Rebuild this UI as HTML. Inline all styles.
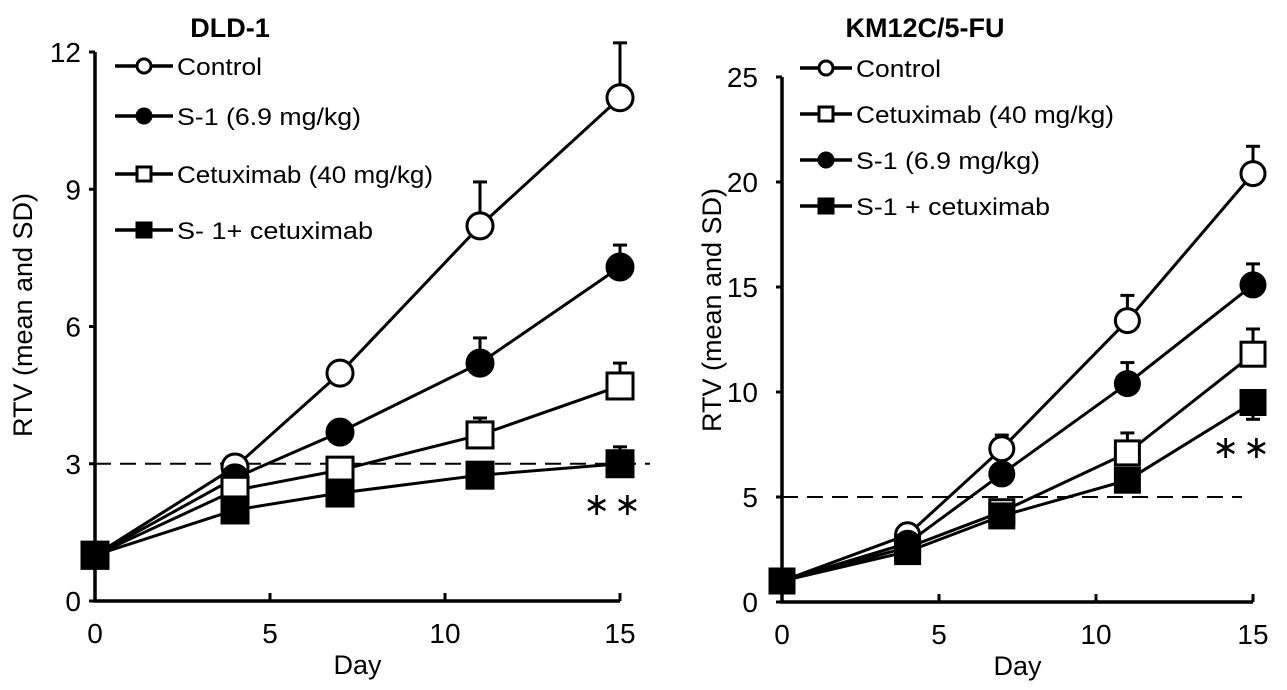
<!DOCTYPE html>
<html><head><meta charset="utf-8"><style>
body{margin:0;background:#fff}
svg text{font-family:"Liberation Sans",Arial,sans-serif;fill:#000}
</style></head><body>
<svg id="c" width="1287" height="685" viewBox="0 0 1287 685" xmlns="http://www.w3.org/2000/svg"></svg>
<script>
const days=[0,4,7,11,15];
const xTicks=[0,5,10,15];
const leftYTicks=[0,3,6,9,12];
const rightYTicks=[0,5,10,15,20,25];
const leftControl=[1,2.93,4.98,8.2,11.0];
const leftControlErr=[null,null,null,9.16,12.2];
const leftS1=[1,2.69,3.69,5.2,7.3];
const leftS1Err=[null,null,null,5.75,7.78];
const leftCetux=[1,2.42,2.86,3.63,4.7];
const leftCetuxErr=[null,null,null,4.0,5.2];
const leftCombo=[1,1.99,2.36,2.75,3.0];
const leftComboErr=[null,null,null,null,3.37];
const rightControl=[1,3.2,7.3,13.4,20.4];
const rightControlErr=[null,null,7.95,14.6,21.7];
const rightCetux=[1,2.6,4.3,7.1,11.8];
const rightCetuxErr=[null,null,null,8.05,13.0];
const rightS1=[1,2.8,6.1,10.4,15.1];
const rightS1Err=[null,null,null,11.4,16.1];
const rightCombo=[1,2.4,4.1,5.8,9.5];
const rightComboErr=[null,null,null,null,8.7];

const NS="http://www.w3.org/2000/svg";
const svg=document.getElementById('c');
function el(tag,attrs,parent){const e=document.createElementNS(NS,tag);for(const k in attrs)e.setAttribute(k,attrs[k]);(parent||svg).appendChild(e);return e;}

function panel(cfg){
  const g=el('g',{});
  
  
  const X=d=>cfg.x0+d*cfg.dx;
  const Y=v=>cfg.y0-v*cfg.dy;
  const ax=el('path',{d:`M${cfg.x0} ${Y(cfg.yTicks[cfg.yTicks.length-1])}V${cfg.y0}H${X(15)}`,stroke:'#000','stroke-width':3.5,fill:'none'},g);
  
  
  cfg.yTicks.forEach(t=>{
    el('line',{x1:cfg.x0-6,x2:cfg.x0,y1:Y(t),y2:Y(t),stroke:'#000','stroke-width':3},g);
    const tx=el('text',{x:cfg.x0-cfg.tickOff,y:Y(t)+10,'text-anchor':'end','font-size':28},g);
    tx.textContent=t;
    
    
  });
  xTicks.forEach(t=>{
    el('line',{x1:X(t),x2:X(t),y1:cfg.y0,y2:cfg.y0-8,stroke:'#000','stroke-width':3},g);
    const tx=el('text',{x:X(t),y:cfg.y0+42,'text-anchor':'middle','font-size':28},g);
    tx.textContent=t;
    
    
  });
  const xl=el('text',{x:(cfg.x0+X(15))/2,y:cfg.y0+73,'text-anchor':'middle','font-size':27},g);
  xl.textContent='Day';
  
  
  const yl=el('text',{x:0,y:0,'text-anchor':'middle','font-size':27,transform:`translate(${cfg.ylx},${cfg.yly}) rotate(-90)`},g);
  yl.textContent='RTV (mean and SD)';
  
  
  const ti=el('text',{x:cfg.tx,y:37,'text-anchor':'middle','font-size':27,'font-weight':'bold'},g);
  ti.textContent=cfg.title;
  
  
  const dl=el('line',{x1:cfg.x0,x2:cfg.dashEnd,y1:Y(cfg.dashV),y2:Y(cfg.dashV),stroke:'#000','stroke-width':2,'stroke-dasharray':'16 9'},g);
  
  
  function marker(type,cx,cy,r,gg){
    if(type[0]==='c') return el('circle',{cx,cy,r,fill:type==='co'?'#fff':'#000',stroke:'#000','stroke-width':3},gg);
    return el('rect',{x:cx-r,y:cy-r,width:2*r,height:2*r,fill:type==='so'?'#fff':'#000',stroke:'#000','stroke-width':3},gg);
  }
  cfg.series.forEach(s=>{
    const sg=el('g',{},g);
    
    
    s.err.forEach((e,i)=>{ if(e==null)return;
      el('line',{x1:X(days[i]),x2:X(days[i]),y1:Y(s.vals[i]),y2:Y(e),stroke:'#000','stroke-width':3},sg);
      el('line',{x1:X(days[i])-7,x2:X(days[i])+7,y1:Y(e),y2:Y(e),stroke:'#000','stroke-width':3},sg);
    });
    el('polyline',{points:s.vals.map((v,i)=>X(days[i])+','+Y(v)).join(' '),fill:'none',stroke:'#000','stroke-width':3},sg);
    s.vals.forEach((v,i)=>{
      const m=marker(s.type,X(days[i]),Y(v),cfg.mr,sg);
      
      
    });
  });
  cfg.series.forEach((s,j)=>{
    const lg=el('g',{},g);
    
    
    const ly=cfg.legY[j];
    el('line',{x1:cfg.legX,x2:cfg.legX+cfg.legW,y1:ly,y2:ly,stroke:'#000','stroke-width':3.5},lg);
    marker(s.type,cfg.legX+cfg.legW/2,ly,7,lg);
    const t=el('text',{x:cfg.legX+cfg.legW+4,y:ly+9,'font-size':24,'textLength':s.tl,'lengthAdjust':'spacingAndGlyphs'},lg);
    t.textContent=s.label;
  });
  const st=el('text',{x:cfg.starX,y:cfg.starY,'text-anchor':'middle','font-size':32,'letter-spacing':4},g);
  st.textContent='∗∗';
  
  
}
panel({name:'dld1-chart',title:'DLD-1',tx:230,x0:95,dx:35,y0:601,dy:45.75,yTicks:leftYTicks,ylx:32,yly:315,tickOff:14,
  dashV:3,dashEnd:650,mr:13,legX:115,legW:58,legY:[66,116,174,230],starX:614,starY:515,
  series:[
    {key:'control',type:'co',label:'Control',vals:leftControl,err:leftControlErr,tl:85},
    {key:'s1',type:'cf',label:'S-1 (6.9 mg/kg)',vals:leftS1,err:leftS1Err,tl:184},
    {key:'cetuximab',type:'so',label:'Cetuximab (40 mg/kg)',vals:leftCetux,err:leftCetuxErr,tl:256},
    {key:'combo',type:'sf',label:'S- 1+ cetuximab',vals:leftCombo,err:leftComboErr,tl:196}]});
panel({name:'km12c-chart',title:'KM12C/5-FU',tx:925,x0:782,dx:31.4,y0:602,dy:21,yTicks:rightYTicks,ylx:721,yly:310,tickOff:24,
  dashV:5,dashEnd:1242,mr:12,legX:800,legW:52,legY:[68,114,160,206],starX:1243,starY:458,
  series:[
    {key:'control',type:'co',label:'Control',vals:rightControl,err:rightControlErr,tl:85},
    {key:'cetuximab',type:'so',label:'Cetuximab (40 mg/kg)',vals:rightCetux,err:rightCetuxErr,tl:258},
    {key:'s1',type:'cf',label:'S-1 (6.9 mg/kg)',vals:rightS1,err:rightS1Err,tl:184},
    {key:'combo',type:'sf',label:'S-1 + cetuximab',vals:rightCombo,err:rightComboErr,tl:194}]});
</script>
</body></html>
